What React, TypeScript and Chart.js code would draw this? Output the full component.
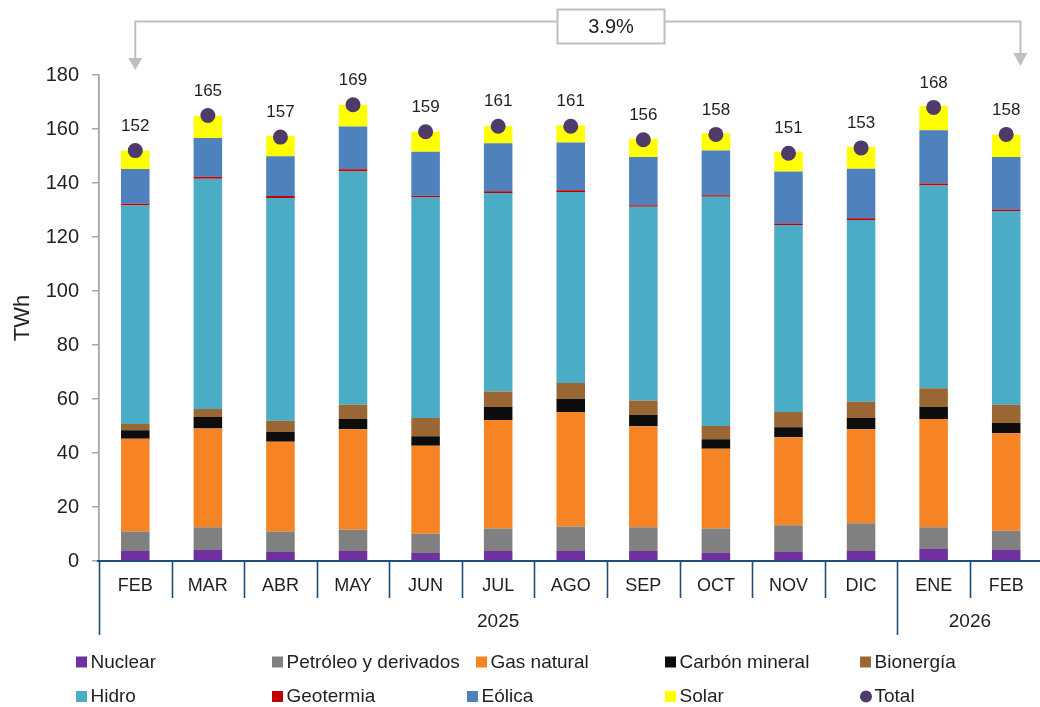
import React, { useEffect, useRef } from 'react';
import { Chart, registerables } from 'chart.js';

Chart.register(...registerables);

const months = ['FEB', 'MAR', 'ABR', 'MAY', 'JUN', 'JUL', 'AGO', 'SEP', 'OCT', 'NOV', 'DIC', 'ENE', 'FEB'];
const yearLabels = ['2025', '2026'];
const yearSpans = [11, 2];
const growthLabel = '3.9%';

const nuclear = [3.7, 4.1, 3.3, 3.7, 3.0, 3.7, 3.7, 3.7, 3.0, 3.3, 3.7, 4.4, 4.1];
const petroleo = [7.2, 8.4, 7.6, 7.9, 7.1, 8.3, 9.1, 8.8, 9.0, 9.9, 10.3, 8.1, 7.1];
const gasNatural = [34.4, 36.6, 33.3, 37.2, 32.6, 40.2, 42.4, 37.4, 29.6, 32.6, 34.8, 40.1, 36.1];
const carbon = [3.1, 4.2, 3.6, 3.8, 3.5, 4.8, 4.9, 4.2, 3.5, 3.7, 4.2, 4.5, 3.8];
const bioenergia = [2.3, 3.0, 4.1, 5.3, 6.8, 5.8, 5.8, 5.3, 4.9, 5.7, 6.0, 6.9, 6.8];
const hidro = [81.0, 85.3, 82.5, 86.4, 81.8, 73.5, 70.8, 71.8, 84.9, 69.2, 67.3, 75.1, 71.7];
const geotermia = [0.6, 0.7, 0.8, 0.8, 0.5, 0.6, 0.6, 0.6, 0.6, 0.6, 0.6, 0.7, 0.6];
const eolica = [12.9, 14.4, 14.7, 15.8, 16.3, 17.8, 17.7, 17.8, 16.5, 19.3, 18.4, 19.7, 19.4];
const solar = [6.8, 8.1, 7.5, 8.0, 7.4, 6.3, 6.3, 6.8, 6.4, 7.3, 8.0, 9.1, 8.3];
const total = [152, 165, 157, 169, 159, 161, 161, 156, 158, 151, 153, 168, 158];

const yTicks = [0, 20, 40, 60, 80, 100, 120, 140, 160, 180];

const FONT = '"Liberation Sans", Arial, sans-serif';
const TEXT = '#1F1F1F';
const AXIS_BLUE = '#1F4E79';

const barSeries = [
  { label: 'Nuclear', data: nuclear, color: '#7030A0' },
  { label: 'Petróleo y derivados', data: petroleo, color: '#808080' },
  { label: 'Gas natural', data: gasNatural, color: '#F68424' },
  { label: 'Carbón mineral', data: carbon, color: '#0D0D0D' },
  { label: 'Bionergía', data: bioenergia, color: '#9A6633' },
  { label: 'Hidro', data: hidro, color: '#4BACC6' },
  { label: 'Geotermia', data: geotermia, color: '#C00000' },
  { label: 'Eólica', data: eolica, color: '#4F81BD' },
  { label: 'Solar', data: solar, color: '#FFFF00' },
];
const totalColor = '#4E3B69';

// legend layout (two rows of five)
const legendCols1 = [76, 272, 476, 665, 860];
const legendCols2 = [76, 272, 467, 665, 860];
const legendRowsY = [662, 696.5];

const overlayPlugin = {
  id: 'overlay',
  afterDatasetsDraw(chart: any) {
    const ctx = chart.ctx as CanvasRenderingContext2D;
    const tIdx = chart.data.datasets.length - 1;
    const meta = chart.getDatasetMeta(tIdx);
    ctx.save();
    ctx.font = `17px ${FONT}`;
    ctx.fillStyle = TEXT;
    ctx.textAlign = 'center';
    ctx.textBaseline = 'middle';
    meta.data.forEach((pt: any, i: number) => {
      ctx.fillText(String(total[i]), pt.x, pt.y - 24.5);
    });
    ctx.restore();
  },
  afterDraw(chart: any) {
    const ctx = chart.ctx as CanvasRenderingContext2D;
    const xs = chart.scales.x;
    const area = chart.chartArea;
    const step = xs.getPixelForValue(1) - xs.getPixelForValue(0);
    const half = step / 2;
    ctx.save();

    // x axis line
    ctx.strokeStyle = AXIS_BLUE;
    ctx.lineWidth = 2;
    ctx.beginPath();
    ctx.moveTo(area.left - 2, area.bottom);
    ctx.lineTo(chart.width, area.bottom);
    ctx.stroke();

    // separators
    const groupBounds = new Set<number>();
    let acc = 0;
    groupBounds.add(0);
    yearSpans.forEach((s) => {
      acc += s;
      groupBounds.add(acc);
    });
    for (let i = 0; i <= months.length; i++) {
      const x = Math.round(xs.getPixelForValue(i) - half) + 0.5;
      const long = groupBounds.has(i);
      ctx.lineWidth = 1.6;
      ctx.beginPath();
      ctx.moveTo(x, area.bottom);
      ctx.lineTo(x, area.bottom + (long ? 74 : 37));
      ctx.stroke();
    }

    // month labels
    ctx.fillStyle = TEXT;
    ctx.font = `18px ${FONT}`;
    ctx.textAlign = 'center';
    ctx.textBaseline = 'middle';
    months.forEach((m, i) => {
      ctx.fillText(m, xs.getPixelForValue(i), area.bottom + 25);
    });

    // year labels
    ctx.font = `19px ${FONT}`;
    let start = 0;
    yearLabels.forEach((y, k) => {
      const end = start + yearSpans[k] - 1;
      const cx = (xs.getPixelForValue(start) + xs.getPixelForValue(end)) / 2;
      ctx.fillText(y, cx, area.bottom + 60.5);
      start += yearSpans[k];
    });

    // growth bracket
    const x0 = xs.getPixelForValue(0);
    const lastMeta = chart.getDatasetMeta(0);
    const lastBar = lastMeta.data[months.length - 1];
    const x1 = lastBar.x + lastBar.width / 2;
    const yLine = 21.5;
    ctx.strokeStyle = '#BFBFBF';
    ctx.fillStyle = '#BFBFBF';
    ctx.lineWidth = 2;
    ctx.beginPath();
    ctx.moveTo(x0, 59);
    ctx.lineTo(x0, yLine);
    ctx.lineTo(x1, yLine);
    ctx.lineTo(x1, 54);
    ctx.stroke();
    ctx.beginPath();
    ctx.moveTo(x0 - 7, 58);
    ctx.lineTo(x0 + 7, 58);
    ctx.lineTo(x0, 70);
    ctx.closePath();
    ctx.fill();
    ctx.beginPath();
    ctx.moveTo(x1 - 7, 53);
    ctx.lineTo(x1 + 7, 53);
    ctx.lineTo(x1, 66);
    ctx.closePath();
    ctx.fill();
    // box
    ctx.fillStyle = '#FFFFFF';
    ctx.fillRect(557, 9, 108, 35);
    ctx.strokeRect(557.5, 9.5, 107, 34);
    ctx.fillStyle = TEXT;
    ctx.font = `20px ${FONT}`;
    ctx.textAlign = 'center';
    ctx.textBaseline = 'middle';
    ctx.fillText(growthLabel, 611, 27.5);

    // legend
    const items = [
      ...barSeries.map((s) => ({ label: s.label, color: s.color, circle: false })),
      { label: 'Total', color: totalColor, circle: true },
    ];
    ctx.font = `19px ${FONT}`;
    ctx.textAlign = 'left';
    ctx.textBaseline = 'middle';
    items.forEach((it, i) => {
      const row = Math.floor(i / 5);
      const col = i % 5;
      const x = (row === 0 ? legendCols1 : legendCols2)[col];
      const y = legendRowsY[row];
      ctx.fillStyle = it.color;
      if (it.circle) {
        ctx.beginPath();
        ctx.arc(x + 6, y, 6, 0, Math.PI * 2);
        ctx.fill();
      } else {
        ctx.fillRect(x, y - 5.5, 11, 11);
      }
      ctx.fillStyle = TEXT;
      ctx.fillText(it.label, x + 14.5, y + 0.5);
    });

    ctx.restore();
  },
};

export default function App() {
  const canvasRef = useRef<HTMLCanvasElement | null>(null);

  useEffect(() => {
    if (!canvasRef.current) return;
    const datasets: any[] = barSeries.map((s) => ({
      type: 'bar',
      label: s.label,
      data: s.data,
      backgroundColor: s.color,
      borderWidth: 0,
      stack: 'gen',
      order: 1,
      barPercentage: 0.393,
      categoryPercentage: 1,
    }));
    datasets.push({
      type: 'line',
      label: 'Total',
      data: total,
      showLine: false,
      pointRadius: 7.5,
      pointHoverRadius: 7.5,
      pointBackgroundColor: totalColor,
      pointBorderWidth: 0,
      borderColor: totalColor,
      backgroundColor: totalColor,
      stack: 'total',
      order: 0,
    });

    const chart = new Chart(canvasRef.current, {
      type: 'bar',
      data: { labels: months, datasets },
      options: {
        animation: false,
        responsive: false,
        maintainAspectRatio: false,
        devicePixelRatio: 1,
        layout: { padding: { top: 75, left: 0, right: 0, bottom: 0 } },
        plugins: {
          legend: { display: false },
          tooltip: { enabled: false },
        },
        scales: {
          x: {
            stacked: true,
            grid: { display: false },
            border: { display: false },
            ticks: { display: false },
            afterFit: (scale: any) => {
              scale.height = 146;
            },
          },
          y: {
            stacked: true,
            min: 0,
            max: 180,
            afterBuildTicks: (scale: any) => {
              scale.ticks = yTicks.map((v) => ({ value: v }));
            },
            grid: {
              drawOnChartArea: false,
              drawTicks: true,
              tickLength: 7,
              color: '#A6A6A6',
              lineWidth: 1.5,
            },
            border: { display: true, color: '#A6A6A6', width: 1.8 },
            ticks: {
              font: { family: FONT, size: 20 },
              color: TEXT,
              padding: 13,
            },
            title: {
              display: true,
              text: 'TWh',
              font: { family: FONT, size: 22 },
              color: TEXT,
              padding: { top: 10, bottom: 0 },
            },
            afterFit: (scale: any) => {
              scale.width = 99;
            },
          },
        },
      },
      plugins: [overlayPlugin],
    } as any);

    return () => chart.destroy();
  }, []);

  return (
    <div
      style={{
        position: 'absolute',
        left: 0,
        top: 0,
        width: 1040,
        height: 707,
        overflow: 'hidden',
        background: '#FFFFFF',
      }}
    >
      <canvas ref={canvasRef} width={1050} height={707} style={{ width: 1050, height: 707, display: 'block' }} />
    </div>
  );
}
